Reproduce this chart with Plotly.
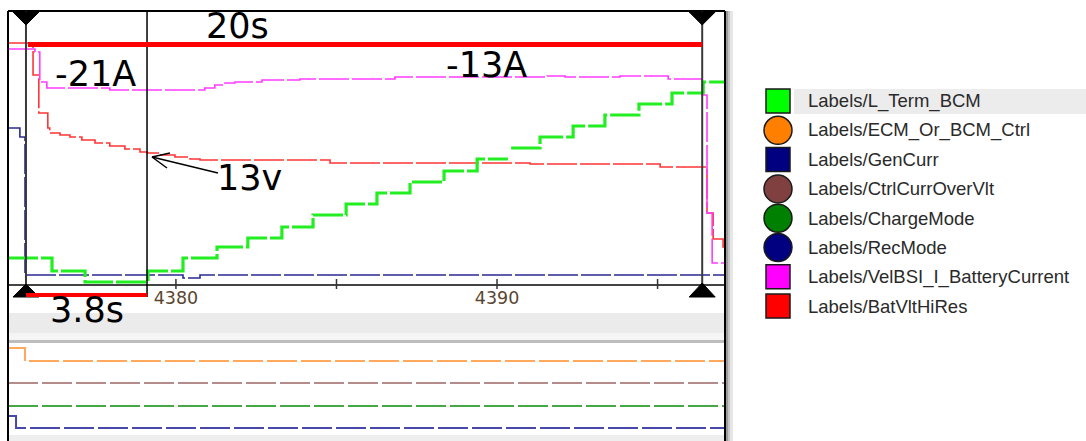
import plotly.graph_objects as go

W, H = 1086, 441

# ---- time axis (s) ----
T0, T1 = 4374.77, 4397.10
tick_vals = [4380, 4385, 4390, 4395]
tick_text = ["4380", "", "4390", ""]

# ---- upper panel signals (display units) ----
lterm_t = [4374.77, 4376.14, 4377.17, 4379.13, 4380.22, 4381.28, 4382.24, 4383.30,
           4384.27, 4385.30, 4386.26, 4387.29, 4388.35, 4389.38, 4390.34, None,
           4390.44, 4391.34, 4392.37, 4393.36, 4394.42, 4395.45, 4396.42, 4397.10]
lterm_v = [26, 13, 2, 13, 26, 37, 46, 57, 69, 80, 91, 102, 113, 125, 125, None,
           136, 147, 158, 169, 180, 191, 202, 202]

gencurr_t = [4374.77, 4375.14, 4375.30, 4380.22, 4380.75, 4397.10]
gencurr_v = [156, 147, 9, 6, 9, 9]

batcur_t = [4374.77, 4375.61, 4375.76, 4375.98, 4377.94, 4380.90, 4381.21, 4381.53,
            4381.84, 4382.68, 4383.86, 4386.82, 4391.56, 4392.12, 4393.83, 4395.33,
            4396.39, 4396.54, 4396.70, 4397.10]
batcur_v = [235, 232, 202, 196, 194, 196, 199, 201, 202, 204, 205, 207, 208, 207,
            208, 205, 189, 71, 21, 21]

batvlt_t = [4374.77, 4375.55, 4375.73, 4376.01, 4376.07, 4376.39, 4376.70, 4377.07,
            4377.48, 4377.94, 4378.41, 4378.88, 4379.10, 4379.50, 4379.97, 4380.44,
            4380.75, 4384.80, 4391.03, 4395.08, 4396.54, 4396.73, 4397.04, 4397.10]
batvlt_v = [241, 209, 171, 156, 151, 149, 147, 144, 141, 138, 135, 132, 131, 129,
            127, 125, 124, 121, 120, 117, 71, 45, 37, 37]

# ---- lower panel (discrete signals) ----
ecm_t = [4374.77, 4375.30, 4397.10]
ecm_v = [87, 74, 74]
ctrl_t = [4374.77, 4397.10]
ctrl_v = [52, 52]
charge_t = [4374.77, 4397.10]
charge_v = [29, 29]
rec_t = [4374.77, 4375.02, 4397.10]
rec_v = [19, 7, 7]

# ---- cursors (s) ----
cursor_a, cursor_b, cursor_c = 4375.33, 4379.10, 4396.39

# ---- legend ----
legend_names = ["Labels/L_Term_BCM", "Labels/ECM_Or_BCM_Ctrl", "Labels/GenCurr",
                "Labels/CtrlCurrOverVlt", "Labels/ChargeMode", "Labels/RecMode",
                "Labels/VelBSI_I_BatteryCurrent", "Labels/BatVltHiRes"]
legend_colors = ["#00ff00", "#ff8000", "#000080", "#804040", "#008000", "#000080",
                 "#ff00ff", "#ff0000"]
legend_symbols = ["square", "circle", "square", "circle", "circle", "circle",
                  "square", "square"]

# pixel helpers for layout decorations
def fx(x):
    return x / W

def fy(y):
    return 1 - y / H

LEFT, RIGHT, TOP, AXIS = 8, 725, 11, 284
LOW_TOP, LOW_BOT = 343, 435

fig = go.Figure()

def add_line(t, v, color, width, dash, xa, ya):
    fig.add_trace(go.Scatter(
        x=t, y=v, mode="lines", line=dict(color=color, width=width, dash=dash, shape="hv"),
        xaxis=xa, yaxis=ya, showlegend=False, hoverinfo="skip", connectgaps=False))

add_line(gencurr_t, gencurr_v, "#2a2a92", 1.6, "30px,3px", "x", "y")
add_line(batvlt_t, batvlt_v, "#ff3434", 1.6, "30px,3px", "x", "y")
add_line(batcur_t, batcur_v, "#ff3cff", 1.6, "30px,3px", "x", "y")
add_line(lterm_t, lterm_v, "#22ee22", 3.2, "30px,3px", "x", "y")

add_line(ecm_t, ecm_v, "#ffa95e", 2, "30px,4px", "x2", "y2")
add_line(ctrl_t, ctrl_v, "#b48c8c", 2, "30px,4px", "x2", "y2")
add_line(charge_t, charge_v, "#45a845", 2, "30px,4px", "x2", "y2")
add_line(rec_t, rec_v, "#4848aa", 2, "30px,4px", "x2", "y2")

shapes = []

# background bands between and below the panels
def band(y0, y1, color, x0=LEFT, x1=RIGHT):
    shapes.append(dict(type="rect", xref="paper", yref="paper", x0=fx(x0), x1=fx(x1),
                       y0=fy(y1), y1=fy(y0), fillcolor=color, line=dict(width=0),
                       layer="below"))

band(313, 333, "#ebebeb")
band(333, 340, "#f5f5f5")
band(340, 343, "#bdbdbd")
band(435, 441, "#eeeeee")

# shadow on the right of the frame
band(TOP, H, "#9c9c9c", 726, 728)
band(TOP, H, "#c8c8c8", 728, 730)
band(TOP, H, "#e6e6e6", 730, 733)

# frame
def seg(x0, y0, x1, y1, color="black", width=2, xref="paper", yref="paper"):
    shapes.append(dict(type="line", xref=xref, yref=yref, x0=x0, y0=y0, x1=x1, y1=y1,
                       line=dict(color=color, width=width)))

seg(fx(LEFT), fy(TOP), fx(LEFT), fy(H))
seg(fx(RIGHT), fy(TOP), fx(RIGHT), fy(H))
seg(fx(LEFT), fy(TOP), fx(RIGHT), fy(TOP))

# axis ticks crossing the axis line
for tv in tick_vals:
    seg(tv, fy(279), tv, fy(289), color="#333333", width=1.5, xref="x")

# cursors
seg(cursor_a, fy(TOP), cursor_a, fy(AXIS + 2), color="#3a3a3a", width=2, xref="x")
seg(cursor_c, fy(TOP), cursor_c, fy(AXIS + 2), color="#3a3a3a", width=2, xref="x")
seg(cursor_b, fy(TOP), cursor_b, fy(297), color="black", width=1.5, xref="x")

def tri(tc, ytip, ybase):
    half = 13 / 32.1
    shapes.append(dict(type="path", xref="x", yref="paper",
                       path=f"M {tc - half},{fy(ybase)} L {tc + half},{fy(ybase)} L {tc},{fy(ytip)} Z",
                       fillcolor="black", line=dict(color="black", width=1)))

tri(cursor_a, 25, 12)
tri(cursor_c, 25, 12)
tri(cursor_a, 284, 297)
tri(cursor_c, 283, 297)

# span bars
seg(cursor_a + 0.06, fy(44.5), cursor_c, fy(44.5), color="#ff0000", width=5, xref="x")
seg(cursor_a, fy(295), cursor_b, fy(295), color="#ff0000", width=4, xref="x")

# arrow for the voltage note
seg(fx(152), fy(157), fx(218), fy(173), color="black", width=1.5)
seg(fx(152), fy(157), fx(170), fy(153), color="black", width=1.5)
seg(fx(152), fy(157), fx(167), fy(168), color="black", width=1.5)

# legend icons and highlight row
row0, row_step = 101, 29.3
shapes.append(dict(type="rect", xref="paper", yref="paper", x0=fx(794), x1=fx(1086),
                   y0=fy(114), y1=fy(89), fillcolor="#ececec", line=dict(width=0),
                   layer="below"))
annotations = []
for i, (name, col, sym) in enumerate(zip(legend_names, legend_colors, legend_symbols)):
    yc = row0 + i * row_step
    if sym == "square":
        shapes.append(dict(type="rect", xref="paper", yref="paper",
                           x0=fx(766), x1=fx(790), y0=fy(yc + 12), y1=fy(yc - 12),
                           fillcolor=col, line=dict(color="#1a1a1a", width=1.5)))
    else:
        shapes.append(dict(type="circle", xref="paper", yref="paper",
                           x0=fx(764), x1=fx(792), y0=fy(yc + 14), y1=fy(yc - 14),
                           fillcolor=col, line=dict(color="#1a1a1a", width=1.5)))
    annotations.append(dict(text=name, xref="paper", yref="paper", x=fx(806), y=fy(yc),
                            xanchor="left", yanchor="middle", showarrow=False,
                            font=dict(family="Liberation Sans", size=18.5, color="#2a2a2a")))

# chart notes
big = dict(family="DejaVu Sans", size=35, color="black")
for txt, x, y in [("20s", 237, 26), ("-21A", 95, 74), ("-13A", 486, 65),
                  ("13v", 249, 178), ("3.8s", 87, 310)]:
    annotations.append(dict(text=txt, xref="paper", yref="paper", x=fx(x), y=fy(y),
                            xanchor="center", yanchor="middle", showarrow=False, font=big))

fig.update_layout(
    width=W, height=H, margin=dict(l=0, r=0, t=0, b=0),
    paper_bgcolor="white", plot_bgcolor="white",
    shapes=shapes, annotations=annotations,
    xaxis=dict(domain=[fx(LEFT), fx(RIGHT)], range=[T0, T1], anchor="y",
               showgrid=False, zeroline=False, showline=True, linecolor="#444444",
               linewidth=1.5, ticks="", tickvals=tick_vals, ticktext=tick_text,
               ticklabelstandoff=-3,
               tickfont=dict(family="DejaVu Sans", size=17.5, color="#5a4630")),
    yaxis=dict(domain=[fy(AXIS), fy(TOP)], range=[0, 273], visible=False),
    xaxis2=dict(domain=[fx(LEFT), fx(RIGHT)], matches="x", anchor="y2", visible=False),
    yaxis2=dict(domain=[fy(LOW_BOT), fy(LOW_TOP)], range=[0, 92], visible=False),
)

fig.write_html("out.html")
